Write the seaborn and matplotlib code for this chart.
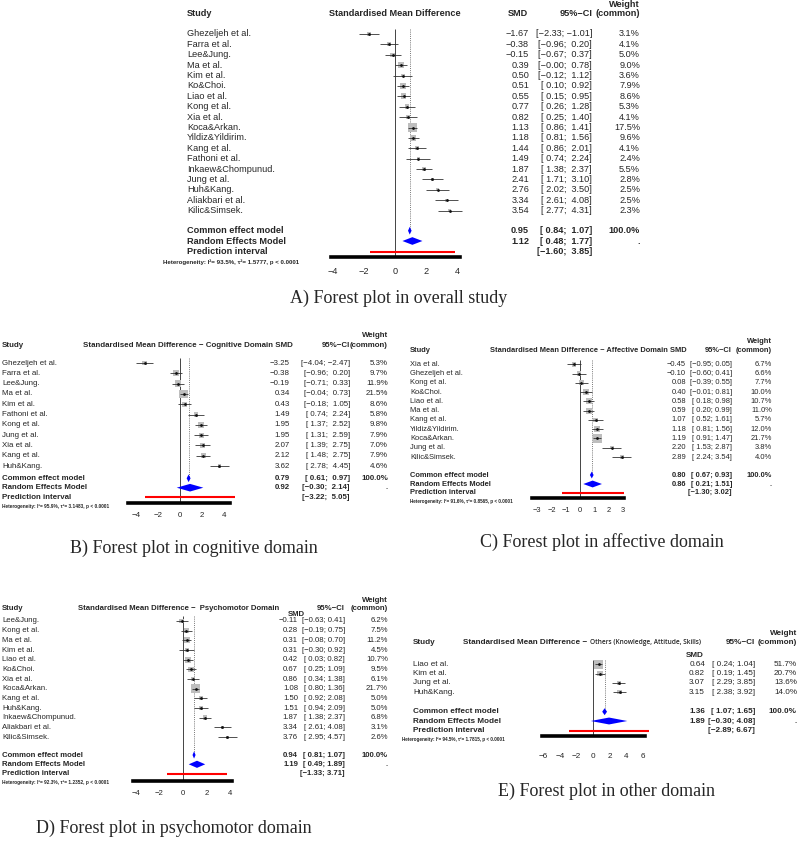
import numpy as np
import pandas as pd
import matplotlib
matplotlib.use("Agg")
import matplotlib.pyplot as plt
import matplotlib.transforms as mtransforms
import seaborn as sns

# ---------------- data ----------------
# A) overall
a_study = ["Ghezeljeh et al.", "Farra et al.", "Lee&Jung.", "Ma et al.", "Kim et al.", "Ko&Choi.",
           "Liao et al.", "Kong et al.", "Xia et al.", "Koca&Arkan.", "Yildiz&Yildirim.", "Kang et al.",
           "Fathoni et al.", "Inkaew&Chompunud.", "Jung et al.", "Huh&Kang.", "Aliakbari et al.", "Kilic&Simsek."]
a_smd = [-1.67, -0.38, -0.15, 0.39, 0.50, 0.51, 0.55, 0.77, 0.82, 1.13, 1.18, 1.44, 1.49, 1.87, 2.41, 2.76, 3.34, 3.54]
a_lo = [-2.33, -0.96, -0.67, -0.00, -0.12, 0.10, 0.15, 0.26, 0.25, 0.86, 0.81, 0.86, 0.74, 1.38, 1.71, 2.02, 2.61, 2.77]
a_hi = [-1.01, 0.20, 0.37, 0.78, 1.12, 0.92, 0.95, 1.28, 1.40, 1.41, 1.56, 2.01, 2.24, 2.37, 3.10, 3.50, 4.08, 4.31]
a_w = [3.1, 4.1, 5.0, 9.0, 3.6, 7.9, 8.6, 5.3, 4.1, 17.5, 9.6, 4.1, 2.4, 5.5, 2.8, 2.5, 2.5, 2.3]
a_common = [0.95, 0.84, 1.07]
a_random = [1.12, 0.48, 1.77]
a_pred = [-1.60, 3.85]
a_het = "Heterogeneity: I²= 93.5%, τ²= 1.5777, p < 0.0001"
a_ticks = [-4, -2, 0, 2, 4]

# B) cognitive
b_study = ["Ghezeljeh et al.", "Farra et al.", "Lee&Jung.", "Ma et al.", "Kim et al.", "Fathoni et al.",
           "Kong et al.", "Jung et al.", "Xia et al.", "Kang et al.", "Huh&Kang."]
b_smd = [-3.25, -0.38, -0.19, 0.34, 0.43, 1.49, 1.95, 1.95, 2.07, 2.12, 3.62]
b_lo = [-4.04, -0.96, -0.71, -0.04, -0.18, 0.74, 1.37, 1.31, 1.39, 1.48, 2.78]
b_hi = [-2.47, 0.20, 0.33, 0.73, 1.05, 2.24, 2.52, 2.59, 2.75, 2.75, 4.45]
b_w = [5.3, 9.7, 11.9, 21.5, 8.6, 5.8, 9.8, 7.9, 7.0, 7.9, 4.6]
b_common = [0.79, 0.61, 0.97]
b_random = [0.92, -0.30, 2.14]
b_pred = [-3.22, 5.05]
b_het = "Heterogeneity: I²= 95.9%, τ²= 3.1483, p < 0.0001"
b_ticks = [-4, -2, 0, 2, 4]

# C) affective
c_study = ["Xia et al.", "Ghezeljeh et al.", "Kong et al.", "Ko&Choi.", "Liao et al.", "Ma et al.",
           "Kang et al.", "Yildiz&Yildirim.", "Koca&Arkan.", "Jung et al.", "Kilic&Simsek."]
c_smd = [-0.45, -0.10, 0.08, 0.40, 0.58, 0.59, 1.07, 1.18, 1.19, 2.20, 2.89]
c_lo = [-0.95, -0.60, -0.39, -0.01, 0.18, 0.20, 0.52, 0.81, 0.91, 1.53, 2.24]
c_hi = [0.05, 0.41, 0.55, 0.81, 0.98, 0.99, 1.61, 1.56, 1.47, 2.87, 3.54]
c_w = [6.7, 6.6, 7.7, 10.0, 10.7, 11.0, 5.7, 12.0, 21.7, 3.8, 4.0]
c_common = [0.80, 0.67, 0.93]
c_random = [0.86, 0.21, 1.51]
c_pred = [-1.30, 3.02]
c_het = "Heterogeneity: I²= 91.6%, τ²= 0.8565, p < 0.0001"
c_ticks = [-3, -2, -1, 0, 1, 2, 3]

# D) psychomotor
d_study = ["Lee&Jung.", "Kong et al.", "Ma et al.", "Kim et al.", "Liao et al.", "Ko&Choi.", "Xia et al.",
           "Koca&Arkan.", "Kang et al.", "Huh&Kang.", "Inkaew&Chompunud.", "Aliakbari et al.", "Kilic&Simsek."]
d_smd = [-0.11, 0.28, 0.31, 0.31, 0.42, 0.67, 0.86, 1.08, 1.50, 1.51, 1.87, 3.34, 3.76]
d_lo = [-0.63, -0.19, -0.08, -0.30, 0.03, 0.25, 0.34, 0.80, 0.92, 0.94, 1.38, 2.61, 2.95]
d_hi = [0.41, 0.75, 0.70, 0.92, 0.82, 1.09, 1.38, 1.36, 2.08, 2.09, 2.37, 4.08, 4.57]
d_w = [6.2, 7.5, 11.2, 4.5, 10.7, 9.5, 6.1, 21.7, 5.0, 5.0, 6.8, 3.1, 2.6]
d_common = [0.94, 0.81, 1.07]
d_random = [1.19, 0.49, 1.89]
d_pred = [-1.33, 3.71]
d_het = "Heterogeneity: I²= 92.3%, τ²= 1.2352, p < 0.0001"
d_ticks = [-4, -2, 0, 2, 4]

# E) others
e_study = ["Liao et al.", "Kim et al.", "Jung et al.", "Huh&Kang."]
e_smd = [0.64, 0.82, 3.07, 3.15]
e_lo = [0.24, 0.19, 2.29, 2.38]
e_hi = [1.04, 1.45, 3.85, 3.92]
e_w = [51.7, 20.7, 13.6, 14.0]
e_common = [1.36, 1.07, 1.65]
e_random = [1.89, -0.30, 4.08]
e_pred = [-2.89, 6.67]
e_het = "Heterogeneity: I²= 94.5%, τ²= 1.7815, p < 0.0001"
e_ticks = [-6, -4, -2, 0, 2, 4, 6]

captions = ["A) Forest plot in overall study", "B) Forest plot in cognitive domain",
            "C) Forest plot in affective domain", "D) Forest plot in psychomotor domain",
            "E) Forest plot in other domain"]

# ---------------- figure ----------------
sns.set_style("white")
plt.rcParams["font.family"] = "Liberation Sans"

W, H = 798, 847
fig = plt.figure(figsize=(W / 100, H / 100), dpi=100)
fig.patch.set_facecolor("white")
pxT = mtransforms.Affine2D().scale(1 / W, 1 / H) + fig.transFigure


def fmt(v):
    return f"{v:.2f}".replace("-", "\u2212")


def draw_forest(study, smd, lo, hi, w, common, random, pred, het, ticks, L):
    n = len(study)
    y0, s, fs = L["y0"], L["s"], L["fs"]

    def row(py):
        return (py - y0) / s

    r_top, r_bot = row(L["y_wt"] - 8), row(L["y_axis"] + 30)
    xl, xr = L["xlim"]
    left = L["x0"] + xl * L["unit"]
    right = L["x0"] + xr * L["unit"]
    ax = fig.add_axes([left / W, 1 - (y0 + r_bot * s) / H, (right - left) / W, (r_bot - r_top) * s / H])
    ax.patch.set_visible(False)

    df = pd.DataFrame({"smd": smd, "lo": lo, "hi": hi, "w": w, "row": np.arange(n)})
    rc, rr, rp = row(L["y_common"]), row(L["y_random"]), row(L["y_pred"])

    ax.vlines(0, -0.5, row(L["y_axis"]), color="#444444", lw=0.7, zorder=1)
    ax.vlines(common[0], -0.5, rc, color="#777777", lw=0.7, ls=(0, (1, 1.2)), zorder=1)

    smax = 37.0
    sns.scatterplot(data=df, x="smd", y="row", size="w",
                    sizes=(smax * min(w) / max(w), smax), size_norm=(min(w), max(w)),
                    marker="s", color="#bebebe", edgecolor="none", linewidth=0,
                    legend=False, ax=ax, zorder=2, clip_on=False)
    ax.hlines(df["row"], df["lo"], df["hi"], color="#333333", lw=0.6, zorder=3, clip_on=False)
    ax.scatter(df["smd"], df["row"], s=1.0, color="#111111", zorder=4, clip_on=False)

    dh = 0.37
    for (est, a, b), r in ((common, rc), (random, rr)):
        ax.fill([a, est, b, est], [r, r - dh, r, r + dh], color="blue", lw=0, zorder=4, clip_on=False)
    ax.hlines(rp, pred[0], pred[1], color="red", lw=1.5, zorder=3, clip_on=False)

    ax.set_xlim(xl, xr)
    ax.set_ylim(r_bot, r_top)
    for sp in ["top", "right", "left"]:
        ax.spines[sp].set_visible(False)
    ax.spines["bottom"].set_position(("data", row(L["y_axis"])))
    ax.spines["bottom"].set_linewidth(2.6)
    ax.spines["bottom"].set_color("black")
    ax.set_xticks(ticks)
    ax.set_yticks([])
    ax.tick_params(axis="x", length=0, pad=L["pad"], labelsize=fs)
    ax.set_xlabel("")
    ax.set_ylabel("")

    tr = mtransforms.blended_transform_factory(pxT, ax.transData)

    def txt(px, r, t, ha="left", bold=False, size=None, **kw):
        ax.text(px, r, t, transform=tr, ha=ha, va="center", fontsize=size or fs,
                fontweight="bold" if bold else "normal", clip_on=False, **kw)

    lo_all = list(lo) + [common[1], random[1], pred[0]]
    hi_all = list(hi) + [common[2], random[2], pred[1]]
    wl = max(len(f"{v:.2f}") for v in lo_all)
    wh = max(len(f"{v:.2f}") for v in hi_all)

    def ci(a, b):
        return "[" + fmt(a).rjust(wl) + "; " + fmt(b).rjust(wh) + "]"

    for i in range(n):
        txt(L["label_x"], i, study[i])
        txt(L["smd_x"], i, fmt(smd[i]), ha="right")
        txt(L["ci_x"], i, ci(lo[i], hi[i]), ha="right")
        txt(L["w_x"], i, f"{w[i]:.1f}%", ha="right")

    txt(L["label_x"], rc, "Common effect model", bold=True)
    txt(L["smd_x"], rc, fmt(common[0]), ha="right", bold=True)
    txt(L["ci_x"], rc, ci(common[1], common[2]), ha="right", bold=True)
    txt(L["w_x"], rc, "100.0%", ha="right", bold=True)
    txt(L["label_x"], rr, "Random Effects Model", bold=True)
    txt(L["smd_x"], rr, fmt(random[0]), ha="right", bold=True)
    txt(L["ci_x"], rr, ci(random[1], random[2]), ha="right", bold=True)
    txt(L["w_x"], rr, ".", ha="right", bold=True)
    txt(L["label_x"], rp, "Prediction interval", bold=True)
    txt(L["ci_x"], rp, "[" + fmt(pred[0]).rjust(wl) + "; " + fmt(pred[1]).rjust(wh) + "]", ha="right", bold=True)
    txt(L["het_x"], row(L["y_het"]), het, bold=True, size=L["het_fs"])

    # headers
    rh = row(L["y_hdr"])
    txt(L["label_x"], rh, "Study", bold=True)
    txt(L["title_x"], rh, L["title"], ha=L["title_ha"], bold=True)
    if "sub" in L:
        ax.text(L["sub_x"], rh, L["sub"], transform=tr, ha="left", va="center", fontsize=L["sub_fs"],
                family="Open Sans", fontweight="semibold", clip_on=False)
    txt(L["ci_x"], rh, "95%\u2212CI", ha="right", bold=True)
    txt(L["w_x"], rh, "(common)", ha="right", bold=True)
    txt(L["w_x"], row(L["y_wt"]), "Weight", ha="right", bold=True)
    if "smdhdr" in L:
        txt(L["smdhdr"][0], row(L["smdhdr"][1]), "SMD", ha="center", bold=True)

    fig.text(L["cap"][0] / W, 1 - L["cap"][1] / H, L["caption"], ha="center", va="center",
             family="Liberation Serif", fontsize=13)
    return ax


layout_a = dict(x0=395, unit=15.5, xlim=(-4.1, 4.2), y0=34, s=10.39, fs=6.6, het_fs=4.4, pad=7,
                y_common=230.7, y_random=241, y_pred=251.7, y_het=261.7, y_axis=257.3,
                y_hdr=14, y_wt=4.5, label_x=187, het_x=163, smd_x=529, ci_x=592, w_x=640,
                title="Standardised Mean Difference", title_x=395, title_ha="center",
                smdhdr=(518, 14), cap=(399, 298), caption=captions[0])
layout_b = dict(x0=180, unit=10.9, xlim=(-4.75, 4.6), y0=363, s=10.3, fs=5.7, het_fs=3.4, pad=7,
                y_common=478.3, y_random=487.7, y_pred=497.3, y_het=506, y_axis=502.7,
                y_hdr=345, y_wt=335, label_x=2, het_x=2, smd_x=290, ci_x=350, w_x=388,
                title="Standardised Mean Difference \u2212 Cognitive Domain SMD", title_x=83, title_ha="left",
                cap=(194, 548), caption=captions[1])
layout_c = dict(x0=580.3, unit=14.33, xlim=(-3.39, 3.05), y0=364.3, s=9.27, fs=5.4, het_fs=3.3, pad=6.4,
                y_common=475, y_random=484, y_pred=492.7, y_het=501.7, y_axis=498.3,
                y_hdr=350, y_wt=341.7, label_x=410, het_x=410, smd_x=686, ci_x=732, w_x=772,
                title="Standardised Mean Difference \u2212 Affective Domain SMD", title_x=490, title_ha="left",
                cap=(602, 542), caption=captions[2])
layout_d = dict(x0=183, unit=11.75, xlim=(-4.25, 4.17), y0=621, s=9.67, fs=5.6, het_fs=3.4, pad=6.9,
                y_common=755, y_random=764.3, y_pred=773.7, y_het=782.7, y_axis=780.7,
                y_hdr=608.3, y_wt=600, label_x=2, het_x=2, smd_x=298, ci_x=345, w_x=388,
                title="Standardised Mean Difference \u2212  Psychomotor Domain", title_x=78, title_ha="left",
                smdhdr=(296, 614.3), cap=(174, 828), caption=captions[3])
layout_e = dict(x0=593.3, unit=8.33, xlim=(-6.2, 6.2), y0=664.3, s=9.33, fs=5.9, het_fs=3.35, pad=12.5,
                y_common=711.7, y_random=721, y_pred=730.7, y_het=739, y_axis=736,
                y_hdr=642.7, y_wt=633.3, label_x=413, het_x=402, smd_x=705, ci_x=755, w_x=797,
                title="Standardised Mean Difference \u2212", title_x=463, title_ha="left",
                sub="Others (Knowledge, Attitude, Skills)", sub_x=590, sub_fs=4.7,
                smdhdr=(695, 655.7), cap=(606, 791), caption=captions[4])

draw_forest(a_study, a_smd, a_lo, a_hi, a_w, a_common, a_random, a_pred, a_het, a_ticks, layout_a)
draw_forest(b_study, b_smd, b_lo, b_hi, b_w, b_common, b_random, b_pred, b_het, b_ticks, layout_b)
draw_forest(c_study, c_smd, c_lo, c_hi, c_w, c_common, c_random, c_pred, c_het, c_ticks, layout_c)
draw_forest(d_study, d_smd, d_lo, d_hi, d_w, d_common, d_random, d_pred, d_het, d_ticks, layout_d)
draw_forest(e_study, e_smd, e_lo, e_hi, e_w, e_common, e_random, e_pred, e_het, e_ticks, layout_e)

fig.savefig("out.png", dpi=100, facecolor="white")
